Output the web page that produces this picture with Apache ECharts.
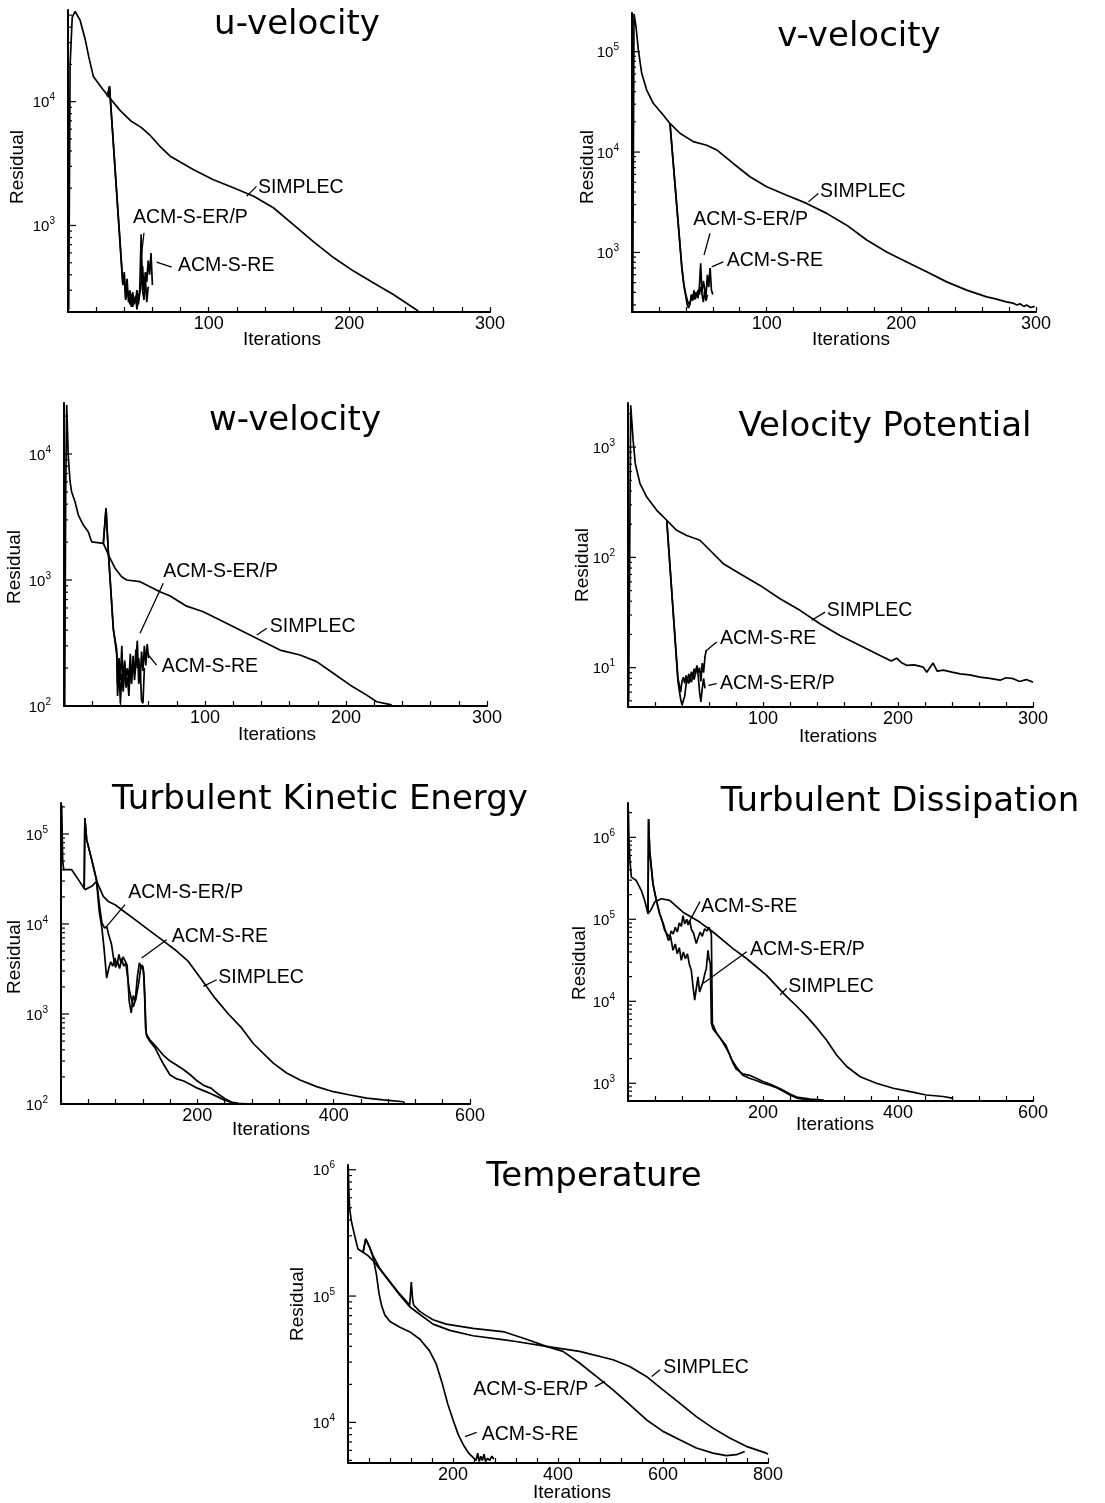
<!DOCTYPE html>
<html><head><meta charset="utf-8">
<script src="https://cdn.jsdelivr.net/npm/echarts@6/dist/echarts.min.js"></script>
<style>html,body{margin:0;padding:0;background:#fff}#c{width:1105px;height:1503px}</style>
</head><body><div id="c"></div>
<script>
// ---------------- DATA (iteration, residual) ----------------
const titles = ['u-velocity','v-velocity','w-velocity','Velocity Potential','Turbulent Kinetic Energy','Turbulent Dissipation','Temperature'];
const seriesNames = ['SIMPLEC','ACM-S-ER/P','ACM-S-RE'];

// u-velocity
const uSimplec = [[0.5,210],[1.5,20000],[3,48000],[5,53500],[8.5,45800],[12.3,31600],[14.7,23200],[18,16000],[25,12500],[30,10600],[37,8500],[45,6940],[52,6200],[58,5400],[65,4400],[73,3600],[89,2830],[103,2350],[118,2010],[132,1720],[146,1390],[160,1020],[174,747],[189,548],[203,428],[217,345],[231,278],[249,204]];
const uErp = [[28,11000],[29.5,13300],[39,330],[40,420],[41,260],[42,370],[43,240],[44,300],[45,220],[46,290],[47,230],[48,270],[49,210],[50,260],[51,300],[52,850],[53,300],[54,250],[55,380],[56,240],[57,320]];
const uRe = [[28,11000],[29.5,13300],[39,340],[40,380],[41,250],[42,300],[43,270],[44,230],[45,280],[46,220],[47,260],[48,240],[49,300],[50,230],[51,280],[52,340],[53,470],[54,300],[55,420],[56,350],[57,520],[58,400],[59,600],[60,330]];

// v-velocity
const vSimplec = [[0.5,260],[1.5,238000],[3,177000],[4.7,104000],[7.2,61000],[10.9,41500],[15.8,30600],[23.2,23400],[28.2,19300],[35.6,15400],[45.5,12700],[55.5,11700],[62.9,10500],[75.2,7700],[87.6,5680],[100,4510],[114.9,3720],[129.7,3080],[144.6,2450],[159.4,1870],[174.3,1330],[189.1,1010],[204,805],[218.8,641],[233.7,509],[248.5,421],[263.4,361],[270,345],[278,322],[283,312],[286,300],[288,308],[291,290],[293,300],[296,283],[299,290]];
const vErp = [[28.2,19300],[37,700],[38.5,480],[40,380],[41.5,320],[43,300],[44,380],[45,330],[46,420],[47,340],[48,400],[49,350],[50,450],[51,780],[52,380],[53,320],[54,420],[55,330],[56,380]];
const vRe = [[28.2,19300],[37,720],[38.5,470],[40,360],[41,300],[42,280],[43,310],[44,350],[45,380],[46,340],[47,400],[48,360],[49,420],[50,380],[51,450],[52,400],[53,520],[54,430],[55,380],[56,600],[57,450],[58,700],[59,420],[60,380]];

// w-velocity
const wSimplec = [[0.5,100],[1.2,5000],[1.9,24500],[3,9800],[4.3,6030],[5.4,5020],[7.8,4180],[10.2,3280],[13.7,2730],[17.2,2420],[19.6,2010],[27.9,1950],[32.6,1490],[36.2,1240],[40.9,1060],[44.5,1000],[53.9,970],[61,885],[68,807],[75,750],[87,620],[98.8,560],[110.6,482],[124.8,401],[139,334],[153.2,278],[167.4,254],[179.2,225],[191,182],[202.8,147],[214.7,122],[221.8,108],[232.4,102]];
const wErp = [[27.9,1950],[29.8,3710],[31.4,1700],[35,414],[37.4,254],[38,120],[39,200],[40,105],[41,180],[42,130],[43,220],[44,140],[45,170],[46,120],[47,200],[48,150],[49,250],[50,160],[51,220],[52,330],[53,150],[54,200],[55,110],[56,105],[57,200]];
const wRe = [[27.9,1950],[29.8,3710],[31.4,1700],[35,400],[37.4,280],[38,150],[39,240],[40,160],[41,300],[42,140],[43,230],[44,170],[45,200],[46,150],[47,260],[48,170],[49,230],[50,180],[51,280],[52,200],[53,240],[54,160],[55,270],[56,190],[57,300],[58,210],[59,310],[60,240]];

// velocity potential
const pSimplec = [[0.5,5],[2,2390],[3.8,1150],[5.4,707],[8.9,466],[13.9,352],[21.3,267],[28.7,217],[36,176],[43.5,158],[53.3,143],[60.7,116],[70.6,87.7],[83,71.2],[97.8,55.7],[112.6,42.2],[127.4,33.1],[142.2,25],[157,19.6],[171.9,15.9],[186.7,12.9],[195,11.5],[199,12.2],[203,11],[206.4,10.5],[212,10.6],[218.8,10.1],[221.3,9.1],[226,11],[229,9.3],[233.6,9.5],[240,9.1],[246,8.8],[253,8.6],[260.7,8.2],[268,8.0],[275.6,7.7],[280,8.1],[285.4,7.95],[290,7.5],[295,7.8],[300,7.4]];
const pErp = [[28.7,217],[37,7.5],[38,6.2],[39,5.2],[40,4.6],[41,4.5],[42,5.5],[43,7],[44,8],[45,7.2],[46,8],[47,7.4],[48,8.5],[49,7.8],[50,9],[51,10],[52,8.5],[53,6],[54,4.9],[55,6.5],[56,8],[57,6.5]];
const pRe = [[28.7,217],[37,8],[38,7],[39,6],[40,7.5],[41,8.2],[42,7.2],[43,8.5],[44,7.5],[45,8.8],[46,7.8],[47,9.2],[48,8.2],[49,9.8],[50,8.8],[51,10.5],[52,9],[53,10],[54,7.5],[55,11],[56,9],[57,12.5],[58,14.5]];

// turbulent kinetic energy
const kSimplec = [[1,210000],[2.5,50000],[4,40100],[15.7,40100],[25.4,31100],[35.2,24100],[45,26200],[52.4,29700],[62,20300],[69.4,17800],[79.2,16400],[89,14400],[108.6,11200],[128,8650],[147.7,6700],[167.2,5180],[186.8,3840],[206.4,2400],[226,1500],[245.5,1000],[265,700],[282,470],[311.4,285],[331,221],[350.6,185],[375,156],[399.5,137],[424,126],[448.4,116],[472.8,111],[502,106],[505,100]];
const kErp = [[34,24500],[35,150000],[37.7,86000],[45,52000],[52,31000],[57,15000],[60,10300],[64,9000],[67,9400],[70,7600],[74,6000],[77,4200],[80,3300],[83,3800],[86,3200],[89,4100],[92,3400],[95,3700],[98,2500],[100,1900],[103,1500],[106,1200],[110,1500],[114,2200],[117,3300],[119,3500],[121,3000],[123,1500],[125,600],[130,520],[140,430],[150,350],[160,300],[170,270],[180,240],[190,210],[200,180],[210,160],[220,150],[230,130],[240,115],[250,105],[260,102],[280,100],[300,100]];
const kRe = [[34,24500],[35,150000],[37.7,86000],[45,52000],[52,31000],[56,14000],[60,9000],[63,5500],[67,2500],[70,3200],[73,3800],[76,3400],[79,4200],[82,3500],[85,4600],[88,3700],[91,4300],[94,3900],[97,3500],[100,1400],[103,1030],[106,1600],[109,1400],[112,2600],[115,3700],[118,3200],[120,3400],[122,2500],[124,700],[126,560],[130,500],[138,420],[145,330],[150,280],[160,210],[170,190],[180,180],[190,165],[200,150],[210,140],[220,130],[230,120],[240,110],[250,104],[260,100]];

// turbulent dissipation
const dSimplec = [[0.5,2200000],[1.5,900000],[3,500000],[5,327000],[12.3,297000],[19.8,224000],[24.7,170000],[29.6,117000],[34,130000],[39.5,162000],[49.4,178000],[61.7,170000],[81.5,122000],[106.2,92500],[126,70000],[155.6,43900],[176,33000],[205,20800],[235,11400],[250,8700],[265,6490],[280,4700],[294,3370],[309,2210],[324,1600],[344,1200],[368,1000],[393,870],[418,790],[442,720],[467,690],[482,656]];
const dErp = [[29.6,117000],[30.5,1670000],[32.1,689000],[37,270000],[42,170000],[46.9,117000],[52,90000],[56,70000],[60,55000],[63,62000],[66.7,41900],[70,50000],[73,38000],[76,45000],[79,31600],[82,40000],[85,33000],[88,38000],[91,28000],[93.8,23900],[96,16000],[98.8,10300],[101,14000],[103.7,19900],[106,13000],[108.6,15000],[111,17000],[114,22000],[116,25000],[118.5,41900],[120,33000],[122,28800],[123.5,5400],[126,4600],[135,3700],[145,2900],[153,2000],[160,1600],[170,1250],[180,1150],[190,1080],[200,1000],[210,950],[220,880],[230,800],[240,720],[250,660],[265,630],[280,615]];
const dRe = [[29.6,117000],[30.5,1670000],[32.1,689000],[37,270000],[42,170000],[46.9,117000],[50.5,95000],[54.3,73300],[58,66000],[61.7,60800],[64,72000],[67,66000],[70,80000],[73,70000],[76,90000],[79,82000],[81.5,111000],[84,88000],[87,100000],[89,85000],[91.4,97000],[94,75000],[97,68000],[101.2,50500],[104,60000],[107,70000],[110,62000],[113.6,76700],[117,72000],[120,80000],[123.5,66700],[125,5400],[130,4300],[140,3200],[150,2300],[155,1800],[160,1500],[170,1300],[180,1250],[190,1150],[200,1050],[210,980],[220,900],[230,820],[240,740],[250,680],[270,640],[290,625]];

// temperature
const tSimplec = [[0.5,1050000],[1.5,700000],[3,500000],[6.3,394000],[12.7,300000],[19,236000],[28.6,222000],[38,209000],[47.6,191000],[60.3,164000],[79.4,129000],[98.4,102000],[117.5,82300],[130,75100],[162,60000],[194,53500],[238,48500],[298,45000],[320,43700],[377.8,40000],[441,36500],[504.8,31300],[536.5,27700],[568.3,23100],[600,18100],[631.7,14200],[663.5,11100],[695.2,9010],[727,7510],[758.7,6460],[796.8,5710],[800,5600]];
const tErp = [[28.6,222000],[33.7,283000],[41.3,243000],[47.6,209000],[60.3,166000],[79.4,131000],[98.4,104000],[117.5,84700],[119.5,84000],[120.6,129000],[123,95000],[125,85000],[136,76000],[149,70000],[162,65000],[187,60000],[238,55500],[298,52000],[340,45500],[377.8,40000],[409.5,36500],[441,29500],[473,23100],[504.8,18100],[536.5,13800],[568.3,10500],[600,8490],[631.7,7290],[663.5,6270],[695.2,5710],[720.6,5450],[739.7,5550],[755.6,5890]];
const tRe = [[28.6,222000],[33.7,283000],[41.3,243000],[47.6,203000],[54,150000],[59,105000],[64,84000],[70,71000],[80,63000],[98,57000],[118,52000],[137,45500],[155,37000],[168,29000],[180,20000],[190,14000],[200,10500],[210,8000],[220,6600],[230,5700],[240,5200],[244,5000],[247,5700],[250,4900],[253,5400],[256,5000],[259,5600],[262,4900],[266,5200],[270,5000],[274,5400],[278,5100]];

// axis ranges
const xMaxes   = [300,300,300,300,600,600,800];
const xSteps   = [20,20,20,20,40,40,40];
const xLabelEvery = [100,100,100,100,200,200,200];
const yMins    = [200,255,100,4.4,100,608,4770];
const yMaxes   = [55000,243000,25400,2510,221000,2620000,1090000];

// annotations: [text, leaderX1, leaderY1, leaderX2, leaderY2, textX, textY] (data coords)
const notes = [
 [['SIMPLEC',127,1720,134,2070,135,2020],['ACM-S-ER/P',54,873,52,548,46.2,1150],['ACM-S-RE',63,506,73.7,461,78.2,470]],
 [['SIMPLEC',131,3190,138.3,3870,139.6,4020],['ACM-S-ER/P',57.9,1550,53.5,940,45.5,2100],['ACM-S-RE',59.2,718,67.8,805,70.3,838]],
 [['SIMPLEC',136.7,366,143.8,414,146,426],['ACM-S-ER/P',70.4,942,53.9,378,70.4,1160],['ACM-S-RE',59.8,254,65.7,211,69.3,205]],
 [['SIMPLEC',136,26.9,146,31.9,147.2,33],['ACM-S-RE',58.3,14.4,65.7,17.1,68.1,18.3],['ACM-S-ER/P',59.5,6.92,65.7,7.16,68.1,7.16]],
 [['ACM-S-ER/P',67,9400,93.9,16400,98.8,22100],['ACM-S-RE',118.4,4190,155,6700,162.4,7280],['SIMPLEC',208.7,2030,228.4,2400,230.8,2510]],
 [['ACM-S-RE',89.4,89300,106.7,164000,108,143000],['ACM-S-ER/P',111.6,16600,175.8,40300,180.7,42300],['SIMPLEC',225.2,11900,235,14400,237.5,15100]],
 [['SIMPLEC',578.5,23100,594.3,26100,600.6,26900],['ACM-S-ER/P',470.5,19200,489.5,21100,238.7,18100],['ACM-S-RE',222.9,7730,245.1,8320,254.7,7980]]
];

const curves = [
 [uSimplec,uErp,uRe],[vSimplec,vErp,vRe],[wSimplec,wErp,wRe],[pSimplec,pErp,pRe],
 [kSimplec,kErp,kRe],[dSimplec,dErp,dRe],[tSimplec,tErp,tRe]
];

// ---------------- LAYOUT ----------------
const layout = [
 {grid:{left:68,top:10,width:422,height:302},  title:[297,25],  xname:[282,340],  yname:[18,167]},
 {grid:{left:632,top:13,width:404,height:299}, title:[859,37],  xname:[851,340],  yname:[588,167]},
 {grid:{left:64,top:403,width:423,height:303}, title:[295,421], xname:[277,735],  yname:[15,567]},
 {grid:{left:628,top:403,width:405,height:304},title:[885,427], xname:[838,737],  yname:[583,565]},
 {grid:{left:61,top:803,width:409,height:301}, title:[320,800], xname:[271,1130], yname:[15,957]},
 {grid:{left:628,top:803,width:405,height:298},title:[900,802], xname:[835,1125], yname:[580,963]},
 {grid:{left:348,top:1165,width:420,height:298},title:[594,1177],xname:[572,1493], yname:[298,1304]}
];

const LAB = '"Liberation Sans", Arial, Helvetica, sans-serif';
const TIT = '"DejaVu Sans", sans-serif';

const grids=[], xAxes=[], yAxes=[], series=[], graphics=[];
layout.forEach((L,i)=>{
  grids.push(Object.assign({outerBoundsMode:'none', containLabel:false}, L.grid));
  const every = xLabelEvery[i];
  xAxes.push({type:'value', gridIndex:i, min:0, max:xMaxes[i], interval:xSteps[i],
    axisLine:{show:true, onZero:false, lineStyle:{color:'#000', width:2}},
    axisTick:{show:true, inside:true, length:5, lineStyle:{color:'#000', width:1.2}},
    axisLabel:{formatter:v=>(v>0 && Math.abs(v%every)<1e-9)?String(v):'', fontSize:18, fontFamily:LAB, color:'#000', margin:3, hideOverlap:false},
    splitLine:{show:false}});
  yAxes.push({type:'log', logBase:10, gridIndex:i, min:yMins[i], max:yMaxes[i],
    axisLine:{show:true, onZero:false, lineStyle:{color:'#000', width:2}},
    axisTick:{show:false},
    axisLabel:{margin:13, hideOverlap:false,
      formatter:v=>{const l=Math.log10(v), e=Math.round(l); return Math.abs(l-e)<1e-6?('{b|10}{s|'+e+'}'):'';},
      rich:{b:{fontSize:15, fontFamily:LAB, color:'#000', lineHeight:18, verticalAlign:'bottom'},
            s:{fontSize:10, fontFamily:LAB, color:'#000', lineHeight:10, verticalAlign:'top'}}},
    splitLine:{show:false}});
  curves[i].forEach((d,k)=>series.push({type:'line', name:seriesNames[k], xAxisIndex:i, yAxisIndex:i, data:d,
    showSymbol:false, symbol:'none', silent:true, clip:true, lineStyle:{color:'#000', width:1.7}}));
  // y ticks (major decades + minor)
  const tk=[];
  for(let d=Math.floor(Math.log10(yMins[i])); d<=Math.ceil(Math.log10(yMaxes[i])); d++)
    for(let m=1;m<=9;m++){const v=m*Math.pow(10,d); if(v>yMins[i]*1.001 && v<yMaxes[i]) tk.push([0,v,m===1?1:0]);}
  series.push({type:'custom', xAxisIndex:i, yAxisIndex:i, data:tk, silent:true, clip:false, encode:{x:0,y:1},
    renderItem:(p,api)=>{const c=api.coord([0,api.value(1)]); const len=api.value(2)?8:4;
      return {type:'line', shape:{x1:c[0],y1:c[1],x2:c[0]+len,y2:c[1]}, style:{stroke:'#000', lineWidth:1.2}};}});
  // annotations
  const N = notes[i];
  series.push({type:'custom', xAxisIndex:i, yAxisIndex:i, data:N.map(n=>[n[1],n[2]]), silent:true, clip:false, encode:{x:0,y:1},
    renderItem:(p,api)=>{const n=N[p.dataIndex]; const a=api.coord([n[1],n[2]]), b=api.coord([n[3],n[4]]), t=api.coord([n[5],n[6]]);
      return {type:'group', children:[
        {type:'line', shape:{x1:a[0],y1:a[1],x2:b[0],y2:b[1]}, style:{stroke:'#000', lineWidth:1.3}},
        {type:'text', x:t[0], y:t[1], style:{text:n[0], font:'19.5px '+LAB, fill:'#000', textAlign:'left', textVerticalAlign:'middle'}}]};}});
  graphics.push({type:'text', x:L.title[0], y:L.title[1], style:{text:titles[i], font:'34px '+TIT, fill:'#000', textAlign:'center', textVerticalAlign:'middle'}});
  graphics.push({type:'text', x:L.xname[0], y:L.xname[1], style:{text:'Iterations', font:'19px '+LAB, fill:'#000', textAlign:'center', textVerticalAlign:'middle'}});
  graphics.push({type:'text', x:L.yname[0], y:L.yname[1], rotation:Math.PI/2, style:{text:'Residual', font:'19px '+LAB, fill:'#000', textAlign:'center', textVerticalAlign:'middle'}});
});

const chart = echarts.init(document.getElementById('c'), null, {renderer:'canvas'});
chart.setOption({animation:false, backgroundColor:'#fff', grid:grids, xAxis:xAxes, yAxis:yAxes, series:series, graphic:graphics});
</script></body></html>
